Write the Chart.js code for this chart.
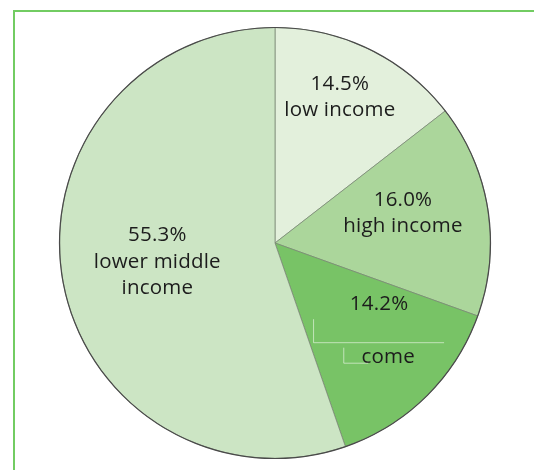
<!DOCTYPE html>
<html>
<head>
<meta charset="utf-8">
<script src="https://cdn.jsdelivr.net/npm/chart.js@4.4.1/dist/chart.umd.min.js"></script>
<style>
  html, body { margin: 0; padding: 0; background: #fff; }
  #wrap { position: relative; width: 534px; height: 470px; overflow: hidden; }
  #frame {
    position: absolute; left: 13px; top: 10px; right: -4px; bottom: -4px;
    border-left: 2px solid #72cc62; border-top: 2px solid #72cc62;
  }
  canvas { position: absolute; left: 0; top: 0; }
</style>
</head>
<body>
<div id="wrap">
  <div id="frame"></div>
  <canvas id="pie" width="534" height="470"></canvas>
</div>
<script>
const categories = ['low income', 'high income', 'upper middle income', 'lower middle income'];
const shares = [14.5, 16.0, 14.2, 55.3];
const nameLines = [['low income'], ['high income'], ['upper middle', 'income'], ['lower middle', 'income']];
const sliceColors = ['#e3f0dc', '#abd69b', '#78c366', '#cce5c4'];

// label anchor: fraction of radius and angle shift (deg) from slice middle
const labelAnchors = [
  { r: 0.74, shift: -2.1 },
  { r: 0.61, shift: -4.2 },
  { r: 0.63, shift: -5.4 },
  { r: 0.553, shift: 0.5 },
];

const LINE_H = 26.5;
const FONT = '20.5px "Open Sans"';

const outlinePlugin = {
  id: 'outline',
  afterDatasetsDraw(chart) {
    const arc = chart.getDatasetMeta(0).data[0];
    const ctx = chart.ctx;
    ctx.save();
    ctx.strokeStyle = '#4a4a4a';
    ctx.lineWidth = 1.2;
    ctx.beginPath();
    ctx.arc(arc.x, arc.y, arc.outerRadius, 0, Math.PI * 2);
    ctx.stroke();
    ctx.restore();
  },
};

const labelPlugin = {
  id: 'sliceLabels',
  afterDraw(chart) {
    const ctx = chart.ctx;
    const arcs = chart.getDatasetMeta(0).data;
    ctx.save();
    ctx.font = FONT;
    ctx.letterSpacing = '0.2px';
    ctx.fillStyle = '#1c1c1c';
    ctx.textAlign = 'center';
    ctx.textBaseline = 'middle';
    arcs.forEach((arc, i) => {
      const anchor = labelAnchors[i];
      const mid = (arc.startAngle + arc.endAngle) / 2 + anchor.shift * Math.PI / 180;
      const cx = arc.x + Math.cos(mid) * arc.outerRadius * anchor.r;
      const cy = arc.y + Math.sin(mid) * arc.outerRadius * anchor.r;
      const lines = [shares[i].toFixed(1) + '%', ...nameLines[i]];
      const top = cy - (lines.length - 1) * LINE_H / 2;

      if (categories[i] === 'upper middle income') {
        // the source picture hides the middle line and "in" of the last line
        ctx.fillText(lines[0], cx, top);
        const y3 = top + 2 * LINE_H;
        const full = ctx.measureText('income').width;
        const startX = cx - full / 2;
        const inW = ctx.measureText('in').width;
        ctx.textAlign = 'left';
        ctx.fillText('come', startX + inW, y3);
        ctx.textAlign = 'center';
        ctx.strokeStyle = 'rgba(255,255,255,0.55)';
        ctx.lineWidth = 1;
        const y2 = top + LINE_H;
        ctx.beginPath();
        ctx.moveTo(cx - 65.5, y2 - 11);
        ctx.lineTo(cx - 65.5, y2 + 12.5);
        ctx.lineTo(cx + 65, y2 + 12.5);
        ctx.moveTo(startX + 0.5, y3 - 9);
        ctx.lineTo(startX + 0.5, y3 + 6.5);
        ctx.lineTo(startX + 25, y3 + 6.5);
        ctx.stroke();
        return;
      }
      lines.forEach((t, k) => ctx.fillText(t, cx, top + k * LINE_H));
    });
    ctx.restore();
  },
};

new Chart(document.getElementById('pie'), {
  type: 'pie',
  data: {
    labels: categories,
    datasets: [{
      data: shares,
      backgroundColor: sliceColors,
      borderColor: 'rgba(120,135,115,0.75)',
      borderWidth: 1,
    }],
  },
  options: {
    responsive: false,
    animation: false,
    layout: { padding: { left: 59, right: 43, top: 27, bottom: 11 } },
    plugins: {
      legend: { display: false },
      tooltip: { enabled: false },
    },
  },
  plugins: [outlinePlugin, labelPlugin],
});
</script>
</body>
</html>
